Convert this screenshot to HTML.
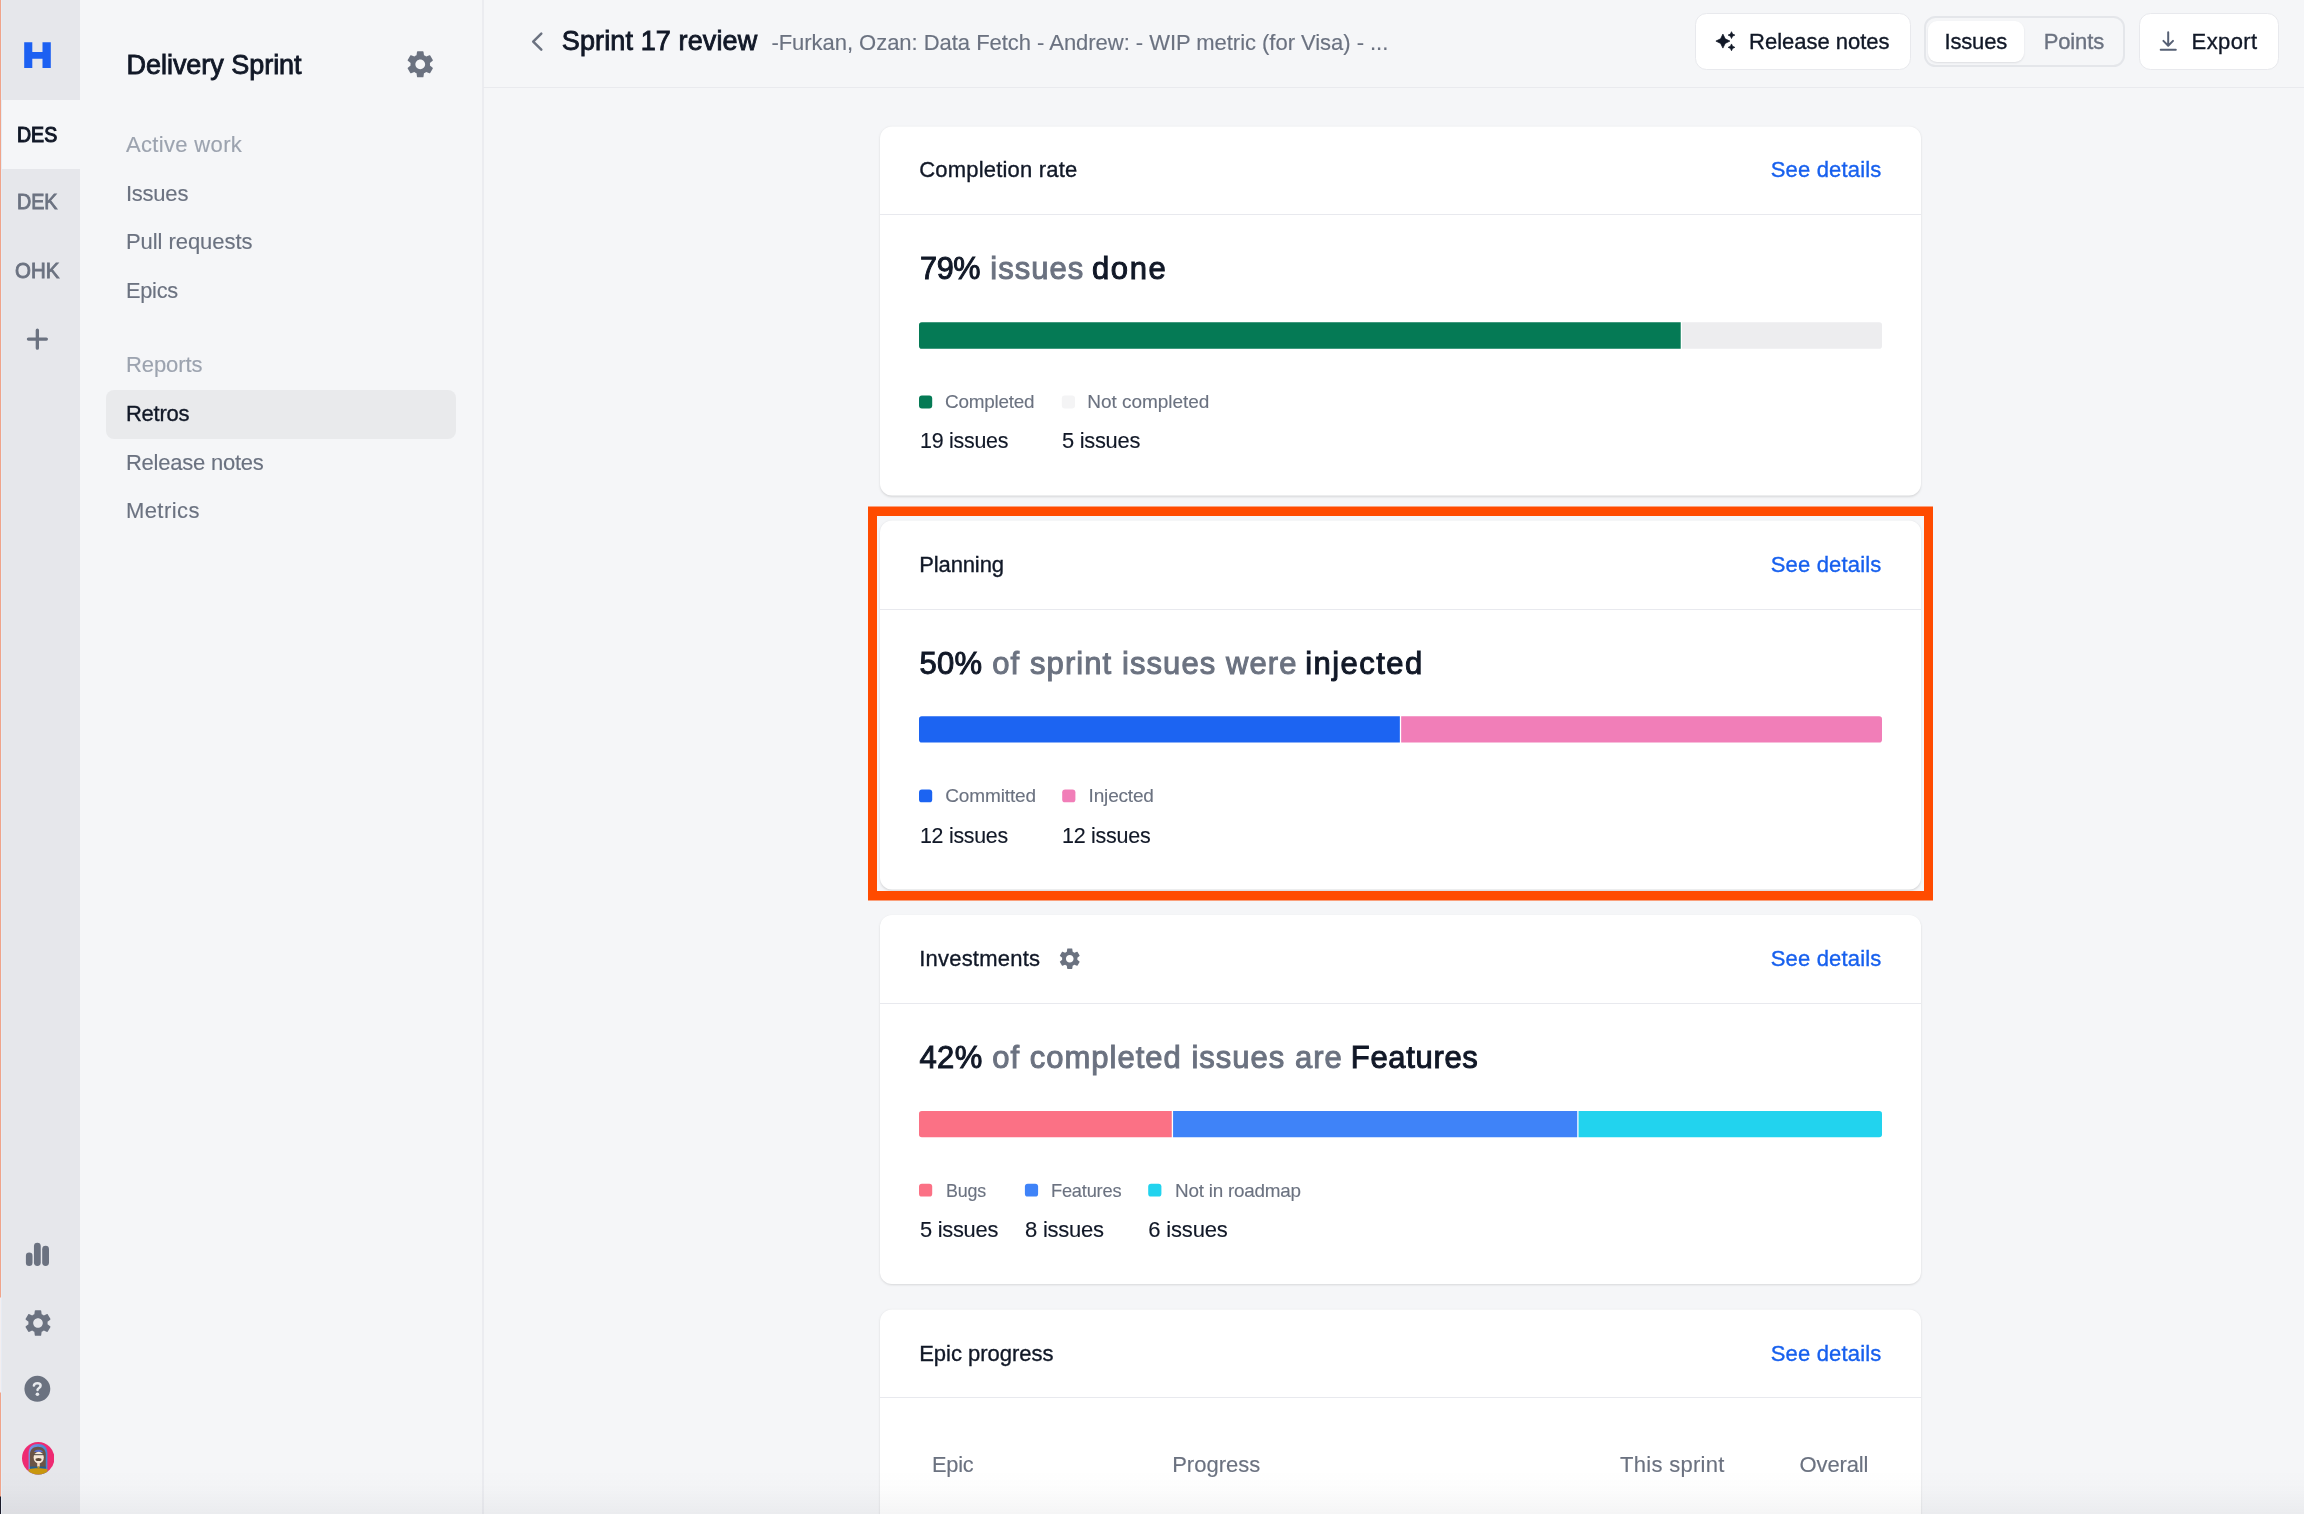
<!DOCTYPE html>
<html lang="en"><head><meta charset="utf-8"><title>Sprint 17 review</title>
<style>
*{box-sizing:border-box;margin:0;padding:0}
html,body{width:2304px;height:1514px;overflow:hidden}
body{background:#F5F6F8;font-family:"Liberation Sans",sans-serif;position:relative;color:#111827}
.t{position:absolute;white-space:nowrap;line-height:1em;transform:translateZ(0)}
.abs{position:absolute}
.card{position:absolute;left:880px;width:1041px;background:#fff;border-radius:12px;box-shadow:0 1px 3px rgba(0,0,0,.08),0 1px 2px rgba(0,0,0,.05)}
.div{position:absolute;left:880px;width:1041px;height:1px;background:#E8E9EE}
.btn{position:absolute;background:#fff;border:1.3px solid #E8E9ED;border-radius:11.5px}
</style></head><body>
<div class="abs" style="left:0;top:0;width:1.3px;height:1514px;background:linear-gradient(180deg,#F0A48A 0,#F0A48A 1297px,#F3EEF0 1298px,#F3EEF0 1392px,#F0A48A 1393px,#F0A48A 1496px,#1B1B2A 1497px,#1B1B2A 1514px)"></div>
<div class="abs" style="left:1.3px;top:0;width:0.9px;height:1514px;background:#E6EBF3"></div>
<nav aria-label="Workspaces">
<div class="abs" style="left:2px;top:0;width:78px;height:1514px;background:#E6E7EB"></div>
<div class="abs" style="left:2px;top:100px;width:78px;height:69px;background:#F5F6F8"></div>
<div class="t" style="left:17.40px;top:124px;font-size:22px;color:#111827;-webkit-text-stroke:1.1px;transform-origin:0 0;transform:translateZ(0) scaleX(0.8888)">DES</div>
<div class="t" style="left:17.10px;top:191px;font-size:22px;color:#6B7280;-webkit-text-stroke:0.9px;transform-origin:0 0;transform:translateZ(0) scaleX(0.8954)">DEK</div>
<div class="t" style="left:15.10px;top:260px;font-size:22px;color:#6B7280;-webkit-text-stroke:0.9px;transform-origin:0 0;transform:translateZ(0) scaleX(0.9292)">OHK</div>
<svg class="abs" style="left:0;top:0" width="80" height="1514" viewBox="0 0 80 1514"><path fill="#1C60F2" d="M24.2 42.2h8.1v9.8h10.2v-9.8h8.3V68h-8.3v-9.300H32.300V68h-8.100z"/><path d="M37.35 330.050v18.100M28.450 339.100h17.900" stroke="#6B7280" stroke-width="3.300" stroke-linecap="round" fill="none"/><g fill="#6B7280"><rect x="25.900" y="1252.500" width="6.600" height="13.500" rx="3.300"/><rect x="33.950" y="1242.700" width="6.800" height="23.300" rx="3.400"/><rect x="42.200" y="1245.850" width="6.800" height="20.150" rx="3.400"/><circle cx="37.350" cy="1388.800" r="12.950"/></g><path d="M33.900 1385.600C34.100 1383.900 35.600 1383.200 37.400 1383.200C39.400 1383.200 40.600 1384.400 40.600 1385.700C40.600 1387.900 37.600 1387.900 37.500 1389.900" stroke="#E8EAEE" stroke-width="2.500" fill="none" stroke-linecap="round"/><circle cx="37.400" cy="1394.200" r="1.800" fill="#E8EAEE"/></svg>
<svg class="abs" style="left:21.50px;top:1307.00px" width="32" height="32" viewBox="0 0 24 24"><path fill="#6B7280" d="M19.14,12.94c0.04-0.3,0.06-0.61,0.06-0.94c0-0.32-0.02-0.64-0.07-0.94l2.03-1.58c0.18-0.14,0.23-0.41,0.12-0.61 l-1.92-3.32c-0.12-0.22-0.37-0.29-0.59-0.22l-2.39,0.96c-0.5-0.38-1.03-0.7-1.62-0.94L14.4,2.81c-0.04-0.24-0.24-0.41-0.48-0.41 h-3.84c-0.24,0-0.43,0.17-0.47,0.41L9.25,5.35C8.66,5.59,8.12,5.92,7.63,6.29L5.24,5.33c-0.22-0.08-0.47,0-0.59,0.22L2.74,8.87 C2.62,9.08,2.66,9.34,2.86,9.48l2.03,1.58C4.84,11.36,4.8,11.69,4.8,12s0.02,0.64,0.07,0.94l-2.03,1.58 c-0.18,0.14-0.23,0.41-0.12,0.61l1.92,3.32c0.12,0.22,0.37,0.29,0.59,0.22l2.39-0.96c0.5,0.38,1.03,0.7,1.62,0.94l0.36,2.54 c0.05,0.24,0.24,0.41,0.48,0.41h3.84c0.24,0,0.44-0.17,0.47-0.41l0.36-2.54c0.59-0.24,1.13-0.56,1.62-0.94l2.39,0.96 c0.22,0.08,0.47,0,0.59-0.22l1.92-3.32c0.12-0.22,0.07-0.47-0.12-0.61L19.14,12.94z M12,15.6c-1.98,0-3.6-1.62-3.6-3.6 s1.62-3.6,3.6-3.6s3.6,1.620,3.600,3.600S13.980,15.600,12,15.600z"/></svg>
<svg class="abs" style="left:21.900px;top:1442.400px" width="32.400" height="32.600" viewBox="0 0 32.400 32.600"><defs><clipPath id="av"><circle cx="16.200" cy="16.300" r="16.200"/></clipPath><linearGradient id="avb" x1="0" y1="0" x2="1" y2="0"><stop offset="0" stop-color="#7E92E6"/><stop offset="1" stop-color="#3F8ACF"/></linearGradient></defs><g clip-path="url(#av)"><rect width="33" height="33" fill="#EE2A72"/><path d="M6.600 33V11.500C6.600 5 10.500 2.100 16 2.100S25.400 5 25.400 11.500V33z" fill="url(#avb)"/><path d="M7.900 26V12.500C7.900 7.500 11.300 4.800 15.900 4.800S23.800 7.500 23.800 12.500V26z" fill="#6A5446"/><path d="M11.900 9.900C12.800 8.300 14.500 7.700 16.500 7.700S20.300 8.300 21.100 9.900z" fill="#5B6DC8"/><ellipse cx="16.700" cy="15.600" rx="5.100" ry="5.800" fill="#F7E8D8"/><rect x="15.200" y="20.800" width="2.600" height="4.200" fill="#F3D9C4"/><path d="M11.600 12.700h10.200" stroke="#4A4640" stroke-width="1"/><ellipse cx="16.500" cy="17.500" rx="3" ry="1.500" fill="#5A4636"/><rect x="7.900" y="24.600" width="15.900" height="3" fill="#1F5F93"/><rect x="15.500" y="24.600" width="2" height="1.400" fill="#C9970E"/><path d="M6.600 27.200c3-1 6-1 9.400-1s6.400 0 9.400 1V33H6.600z" fill="#C9970E"/></g></svg>
</nav>
<aside aria-label="Delivery Sprint">
<div class="abs" style="left:482.2px;top:0;width:1.5px;height:1514px;background:#EBECF0"></div>
<div class="t" style="left:126.50px;top:52px;font-size:27px;letter-spacing:-0.032px;font-weight:400;color:#111827;-webkit-text-stroke:0.86px;">Delivery Sprint</div>
<svg class="abs" style="left:404.25px;top:48.25px" width="32.5" height="32.5" viewBox="0 0 24 24"><path fill="#6B7280" d="M19.14,12.94c0.04-0.3,0.06-0.61,0.06-0.94c0-0.32-0.02-0.64-0.07-0.94l2.03-1.58c0.18-0.14,0.23-0.41,0.12-0.61 l-1.92-3.32c-0.12-0.22-0.37-0.29-0.59-0.22l-2.39,0.96c-0.5-0.38-1.03-0.7-1.62-0.94L14.4,2.81c-0.04-0.24-0.24-0.41-0.48-0.41 h-3.84c-0.24,0-0.43,0.17-0.47,0.41L9.25,5.35C8.66,5.59,8.12,5.92,7.63,6.29L5.24,5.33c-0.22-0.08-0.47,0-0.59,0.22L2.74,8.87 C2.62,9.08,2.66,9.34,2.86,9.48l2.03,1.58C4.84,11.36,4.8,11.69,4.8,12s0.02,0.64,0.07,0.94l-2.03,1.58 c-0.18,0.14-0.23,0.41-0.12,0.61l1.92,3.32c0.12,0.22,0.37,0.29,0.59,0.22l2.39-0.96c0.5,0.38,1.03,0.7,1.62,0.94l0.36,2.54 c0.05,0.24,0.24,0.41,0.48,0.41h3.84c0.24,0,0.44-0.17,0.47-0.41l0.36-2.54c0.59-0.24,1.13-0.56,1.62-0.94l2.39,0.96 c0.22,0.08,0.47,0,0.59-0.22l1.92-3.32c0.12-0.22,0.07-0.47-0.12-0.61L19.14,12.94z M12,15.6c-1.98,0-3.6-1.62-3.6-3.6 s1.62-3.6,3.6-3.6s3.6,1.620,3.600,3.600S13.980,15.600,12,15.600z"/></svg>
<div class="abs" style="left:106px;top:390px;width:350px;height:49px;border-radius:8px;background:#E9EAEC"></div>
<div class="t" style="left:125.90px;top:134px;font-size:22px;letter-spacing:0.349px;font-weight:400;color:#9CA3AF;-webkit-text-stroke:0.15px;">Active work</div>
<div class="t" style="left:125.90px;top:183px;font-size:22px;letter-spacing:-0.216px;font-weight:400;color:#6B7280;-webkit-text-stroke:0.15px;">Issues</div>
<div class="t" style="left:125.90px;top:231px;font-size:22px;letter-spacing:-0.048px;font-weight:400;color:#6B7280;-webkit-text-stroke:0.15px;">Pull requests</div>
<div class="t" style="left:125.90px;top:280px;font-size:22px;letter-spacing:-0.264px;font-weight:400;color:#6B7280;-webkit-text-stroke:0.15px;transform-origin:0 0;transform:translateZ(0) scaleX(0.9899);">Epics</div>
<div class="t" style="left:125.90px;top:354px;font-size:22px;letter-spacing:-0.054px;font-weight:400;color:#9CA3AF;-webkit-text-stroke:0.15px;">Reports</div>
<div class="t" style="left:125.90px;top:403px;font-size:22px;letter-spacing:-0.238px;font-weight:400;color:#111827;-webkit-text-stroke:0.35px;">Retros</div>
<div class="t" style="left:125.90px;top:452px;font-size:22px;letter-spacing:-0.229px;font-weight:400;color:#6B7280;-webkit-text-stroke:0.15px;">Release notes</div>
<div class="t" style="left:125.90px;top:500px;font-size:22px;letter-spacing:0.453px;font-weight:400;color:#6B7280;-webkit-text-stroke:0.15px;">Metrics</div>
</aside>
<header>
<div class="abs" style="left:483px;top:87px;width:1821px;height:1px;background:#E9EAEE"></div>
<svg class="abs" style="left:528px;top:28px" width="18" height="27" viewBox="528 28 18 27"><path d="M541.3 33.6 533.2 41.65l8.100 8.050" stroke="#6B7280" stroke-width="2.500" fill="none" stroke-linecap="round" stroke-linejoin="round"/></svg>
<div class="t" style="left:561.80px;top:28px;font-size:27px;letter-spacing:0.122px;font-weight:400;color:#111827;-webkit-text-stroke:0.86px;">Sprint 17 review</div>
<div class="t" style="left:771.40px;top:32px;font-size:22px;letter-spacing:-0.033px;font-weight:400;color:#6B7280;-webkit-text-stroke:0.15px;">-Furkan, Ozan: Data Fetch - Andrew: - WIP metric (for Visa) - ...</div>
<div class="btn" style="left:1695px;top:12.5px;width:215.5px;height:57px"></div>
<svg class="abs" style="left:1710px;top:28px" width="30" height="28" viewBox="1710 28 30 28"><path fill="#111827" stroke="#111827" stroke-width="0.7" stroke-linejoin="round" d="M1722.90 34.10L1725.20 38.80L1729.90 41.10L1725.20 43.40L1722.90 48.10L1720.60 43.40L1715.90 41.10L1720.60 38.80ZM1731.50 31.70L1732.55 34.05L1734.90 35.10L1732.55 36.15L1731.50 38.50L1730.45 36.15L1728.10 35.10L1730.45 34.05ZM1731.50 43.95L1732.55 46.30L1734.90 47.35L1732.55 48.40L1731.50 50.75L1730.45 48.40L1728.10 47.35L1730.45 46.30Z"/></svg>
<div class="t" style="left:1749.10px;top:31px;font-size:22px;letter-spacing:-0.020px;font-weight:400;color:#111827;-webkit-text-stroke:0.35px;">Release notes</div>
<div class="abs" style="left:1924px;top:16px;width:200.5px;height:50.5px;border-radius:11.5px;background:#F5F6F8;border:2.4px solid #E4E6EA"></div>
<div class="abs" style="left:1928px;top:20.500px;width:96px;height:41.500px;border-radius:9px;background:#fff;box-shadow:0 1px 2px rgba(17,24,39,.10)"></div>
<div class="t" style="left:1944.50px;top:31px;font-size:22px;letter-spacing:-0.176px;font-weight:400;color:#111827;-webkit-text-stroke:0.35px;">Issues</div>
<div class="t" style="left:2043.70px;top:31px;font-size:22px;letter-spacing:-0.128px;font-weight:400;color:#6B7280;-webkit-text-stroke:0.35px;">Points</div>
<div class="btn" style="left:2138.5px;top:12.5px;width:140px;height:57px"></div>
<svg class="abs" style="left:2158px;top:30px" width="21" height="22" viewBox="0 0 21 22"><path d="M10.200 2.300v13.200M5.400 10.900l4.800 4.800 4.800-4.800M2.700 19.800h15.100" stroke="#566074" stroke-width="2" fill="none" stroke-linecap="round" stroke-linejoin="round"/></svg>
<div class="t" style="left:2191.60px;top:31px;font-size:22px;letter-spacing:0.404px;font-weight:400;color:#111827;-webkit-text-stroke:0.35px;">Export</div>
</header>
<main>
<section aria-label="Completion rate">
<div class="card" style="top:126px;height:369px;transform:translateY(0.50px)"></div>
<div class="t" style="left:919.20px;top:159px;font-size:22px;letter-spacing:0.200px;font-weight:400;color:#111827;-webkit-text-stroke:0.35px;">Completion rate</div>
<div class="t" style="left:1770.70px;top:159px;font-size:22px;letter-spacing:0.174px;font-weight:400;color:#1760EE;-webkit-text-stroke:0.35px;">See details</div>
<div class="div" style="top:214px"></div>
<div class="t" style="left:919.80px;top:253px;font-size:31px;letter-spacing:-0.372px;font-weight:400;color:#111827;-webkit-text-stroke:0.99px;transform-origin:0 0;transform:translateZ(0) scaleX(0.9872);">79%</div>
<div class="t" style="left:990.30px;top:253px;font-size:31px;letter-spacing:1.029px;font-weight:400;color:#6B7280;-webkit-text-stroke:0.99px;">issues</div>
<div class="t" style="left:1092.00px;top:253px;font-size:31px;letter-spacing:1.608px;font-weight:400;color:#111827;-webkit-text-stroke:0.99px;">done</div>
<div class="t" style="left:945.40px;top:392px;font-size:19px;letter-spacing:-0.228px;font-weight:400;color:#6B7280;-webkit-text-stroke:0.13px;transform-origin:0 0;transform:translateZ(0) scaleX(0.9949);">Completed</div>
<div class="t" style="left:1087.20px;top:392px;font-size:19px;letter-spacing:-0.026px;font-weight:400;color:#6B7280;-webkit-text-stroke:0.13px;">Not completed</div>
<div class="t" style="left:919.70px;top:430px;font-size:22px;letter-spacing:-0.264px;font-weight:400;color:#111827;-webkit-text-stroke:0.15px;transform-origin:0 0;transform:translateZ(0) scaleX(0.9732);">19 issues</div>
<div class="t" style="left:1062.40px;top:430px;font-size:22px;letter-spacing:-0.264px;font-weight:400;color:#111827;-webkit-text-stroke:0.15px;transform-origin:0 0;transform:translateZ(0) scaleX(0.9930);">5 issues</div>
</section>
<section aria-label="Planning">
<div class="card" style="top:520px;height:369px;transform:translateY(0.40px)"></div>
<div class="t" style="left:919.20px;top:554px;font-size:22px;letter-spacing:-0.118px;font-weight:400;color:#111827;-webkit-text-stroke:0.35px;">Planning</div>
<div class="t" style="left:1770.70px;top:554px;font-size:22px;letter-spacing:0.174px;font-weight:400;color:#1760EE;-webkit-text-stroke:0.35px;">See details</div>
<div class="div" style="top:609px"></div>
<div class="t" style="left:919.60px;top:648px;font-size:31px;letter-spacing:0.234px;font-weight:400;color:#111827;-webkit-text-stroke:0.99px;">50%</div>
<div class="t" style="left:992.30px;top:648px;font-size:31px;letter-spacing:1.077px;font-weight:400;color:#6B7280;-webkit-text-stroke:0.99px;">of sprint issues were</div>
<div class="t" style="left:1305.20px;top:648px;font-size:31px;letter-spacing:1.449px;font-weight:400;color:#111827;-webkit-text-stroke:0.99px;">injected</div>
<div class="t" style="left:945.20px;top:786px;font-size:19px;letter-spacing:-0.121px;font-weight:400;color:#6B7280;-webkit-text-stroke:0.13px;">Committed</div>
<div class="t" style="left:1088.60px;top:786px;font-size:19px;letter-spacing:-0.177px;font-weight:400;color:#6B7280;-webkit-text-stroke:0.13px;">Injected</div>
<div class="t" style="left:919.60px;top:825px;font-size:22px;letter-spacing:-0.264px;font-weight:400;color:#111827;-webkit-text-stroke:0.15px;transform-origin:0 0;transform:translateZ(0) scaleX(0.9699);">12 issues</div>
<div class="t" style="left:1062.40px;top:825px;font-size:22px;letter-spacing:-0.264px;font-weight:400;color:#111827;-webkit-text-stroke:0.15px;transform-origin:0 0;transform:translateZ(0) scaleX(0.9765);">12 issues</div>
</section>
<section aria-label="Investments">
<div class="card" style="top:915px;height:369px;transform:translateY(0.00px)"></div>
<div class="t" style="left:919.20px;top:948px;font-size:22px;letter-spacing:0.220px;font-weight:400;color:#111827;-webkit-text-stroke:0.35px;">Investments</div>
<svg class="abs" style="left:1056.85px;top:946.25px" width="25.5" height="25.5" viewBox="0 0 24 24"><path fill="#6B7280" d="M19.14,12.94c0.04-0.3,0.06-0.61,0.06-0.94c0-0.32-0.02-0.64-0.07-0.94l2.03-1.58c0.18-0.14,0.23-0.41,0.12-0.61 l-1.92-3.32c-0.12-0.22-0.37-0.29-0.59-0.22l-2.39,0.96c-0.5-0.38-1.03-0.7-1.62-0.94L14.4,2.81c-0.04-0.24-0.24-0.41-0.48-0.41 h-3.84c-0.24,0-0.43,0.17-0.47,0.41L9.25,5.35C8.66,5.59,8.12,5.92,7.63,6.29L5.24,5.33c-0.22-0.08-0.47,0-0.59,0.22L2.74,8.87 C2.62,9.08,2.66,9.34,2.86,9.48l2.03,1.58C4.84,11.36,4.8,11.69,4.8,12s0.02,0.64,0.07,0.94l-2.03,1.58 c-0.18,0.14-0.23,0.41-0.12,0.61l1.92,3.32c0.12,0.22,0.37,0.29,0.59,0.22l2.39-0.96c0.5,0.38,1.03,0.7,1.62,0.94l0.36,2.54 c0.05,0.24,0.24,0.41,0.48,0.41h3.84c0.24,0,0.44-0.17,0.47-0.41l0.36-2.54c0.59-0.24,1.13-0.56,1.62-0.94l2.39,0.96 c0.22,0.08,0.47,0,0.59-0.22l1.92-3.32c0.12-0.22,0.07-0.47-0.12-0.61L19.14,12.94z M12,15.6c-1.98,0-3.6-1.62-3.6-3.6 s1.62-3.6,3.6-3.6s3.6,1.620,3.600,3.600S13.980,15.600,12,15.600z"/></svg>
<div class="t" style="left:1770.70px;top:948px;font-size:22px;letter-spacing:0.174px;font-weight:400;color:#1760EE;-webkit-text-stroke:0.35px;">See details</div>
<div class="div" style="top:1003px"></div>
<div class="t" style="left:919.40px;top:1042px;font-size:31px;letter-spacing:0.435px;font-weight:400;color:#111827;-webkit-text-stroke:0.99px;">42%</div>
<div class="t" style="left:992.30px;top:1042px;font-size:31px;letter-spacing:1.000px;font-weight:400;color:#6B7280;-webkit-text-stroke:0.99px;">of completed issues are</div>
<div class="t" style="left:1350.80px;top:1042px;font-size:31px;letter-spacing:0.668px;font-weight:400;color:#111827;-webkit-text-stroke:0.99px;">Features</div>
<div class="t" style="left:945.80px;top:1181px;font-size:19px;letter-spacing:-0.228px;font-weight:400;color:#6B7280;-webkit-text-stroke:0.13px;transform-origin:0 0;transform:translateZ(0) scaleX(0.9409);">Bugs</div>
<div class="t" style="left:1050.90px;top:1181px;font-size:19px;letter-spacing:-0.228px;font-weight:400;color:#6B7280;-webkit-text-stroke:0.13px;transform-origin:0 0;transform:translateZ(0) scaleX(0.9608);">Features</div>
<div class="t" style="left:1174.60px;top:1181px;font-size:19px;letter-spacing:-0.228px;font-weight:400;color:#6B7280;-webkit-text-stroke:0.13px;transform-origin:0 0;transform:translateZ(0) scaleX(0.9934);">Not in roadmap</div>
<div class="t" style="left:919.80px;top:1219px;font-size:22px;letter-spacing:-0.264px;font-weight:400;color:#111827;-webkit-text-stroke:0.15px;transform-origin:0 0;transform:translateZ(0) scaleX(0.9930);">5 issues</div>
<div class="t" style="left:1025.10px;top:1219px;font-size:22px;letter-spacing:-0.242px;font-weight:400;color:#111827;-webkit-text-stroke:0.15px;">8 issues</div>
<div class="t" style="left:1148.20px;top:1219px;font-size:22px;letter-spacing:-0.157px;font-weight:400;color:#111827;-webkit-text-stroke:0.15px;">6 issues</div>
</section>
<section aria-label="Epic progress">
<div class="card" style="top:1309px;height:260px;transform:translateY(0.40px)"></div>
<div class="t" style="left:919.20px;top:1343px;font-size:22px;letter-spacing:-0.017px;font-weight:400;color:#111827;-webkit-text-stroke:0.35px;">Epic progress</div>
<div class="t" style="left:1770.70px;top:1343px;font-size:22px;letter-spacing:0.174px;font-weight:400;color:#1760EE;-webkit-text-stroke:0.35px;">See details</div>
<div class="div" style="top:1397px"></div>
<div class="t" style="left:932.10px;top:1454px;font-size:22px;letter-spacing:-0.264px;font-weight:400;color:#6B7280;-webkit-text-stroke:0.15px;transform-origin:0 0;transform:translateZ(0) scaleX(0.9905);">Epic</div>
<div class="t" style="left:1172.20px;top:1454px;font-size:22px;letter-spacing:-0.006px;font-weight:400;color:#6B7280;-webkit-text-stroke:0.15px;">Progress</div>
<div class="t" style="left:1620.10px;top:1454px;font-size:22px;letter-spacing:0.274px;font-weight:400;color:#6B7280;-webkit-text-stroke:0.15px;">This sprint</div>
<div class="t" style="left:1799.60px;top:1454px;font-size:22px;letter-spacing:-0.133px;font-weight:400;color:#6B7280;-webkit-text-stroke:0.15px;">Overall</div>
</section>
<svg class="abs" style="left:880px;top:300px" width="1041" height="920" viewBox="880 300 1041 920"><path fill="#057A55" d="M921.80 322.30H1680.72H1680.72V348.70H921.80A2.8 2.8 0 0 1 919.00 345.90V325.10A2.8 2.8 0 0 1 921.80 322.30Z"/><path fill="#EDEDEF" d="M1682.03 322.30H1879.20A2.8 2.8 0 0 1 1882.00 325.10V345.90A2.8 2.8 0 0 1 1879.20 348.70H1682.03H1682.03V322.30Z"/><rect x="919" y="395.5" width="13.2" height="12.9" rx="2.9" fill="#057A55"/><rect x="1061.8" y="395.5" width="13.2" height="12.9" rx="2.9" fill="#F4F4F5"/><path fill="#1C64F2" d="M921.80 716.20H1399.85H1399.85V742.60H921.80A2.8 2.8 0 0 1 919.00 739.80V719.00A2.8 2.8 0 0 1 921.80 716.20Z"/><path fill="#F17EB8" d="M1401.15 716.20H1879.20A2.8 2.8 0 0 1 1882.00 719.00V739.80A2.8 2.8 0 0 1 1879.20 742.60H1401.15H1401.15V716.20Z"/><rect x="919" y="789.4" width="13.2" height="12.9" rx="2.9" fill="#1C64F2"/><rect x="1062.2" y="789.4" width="13.2" height="12.9" rx="2.9" fill="#F17EB8"/><path fill="#FB7185" d="M921.80 1110.90H1171.77H1171.77V1137.30H921.80A2.8 2.8 0 0 1 919.00 1134.50V1113.70A2.8 2.8 0 0 1 921.80 1110.90Z"/><path fill="#3F83F8" d="M1173.07 1110.90H1577.24H1577.24V1137.30H1173.07H1173.07V1110.90Z"/><path fill="#22D3EE" d="M1578.54 1110.90H1879.20A2.8 2.8 0 0 1 1882.00 1113.70V1134.50A2.8 2.8 0 0 1 1879.20 1137.30H1578.54H1578.54V1110.90Z"/><rect x="919" y="1183.7" width="13.2" height="12.9" rx="2.9" fill="#FB7185"/><rect x="1024.9" y="1183.7" width="13.2" height="12.9" rx="2.9" fill="#3F83F8"/><rect x="1148.2" y="1183.7" width="13.2" height="12.9" rx="2.9" fill="#22D3EE"/></svg>
</main>
<svg class="abs" style="left:860px;top:500px" width="1080" height="408" viewBox="860 500 1080 408"><path fill="#FF4B00" fill-rule="evenodd" d="M868 506.6H1933V900.5H868zM877 516H1924V891H877z"/></svg>
<div class="abs" style="left:2px;top:1470px;width:2302px;height:44px;background:linear-gradient(180deg,rgba(20,24,40,0) 0,rgba(20,24,40,.012) 45%,rgba(20,24,40,.045) 100%)"></div>
</body></html>
